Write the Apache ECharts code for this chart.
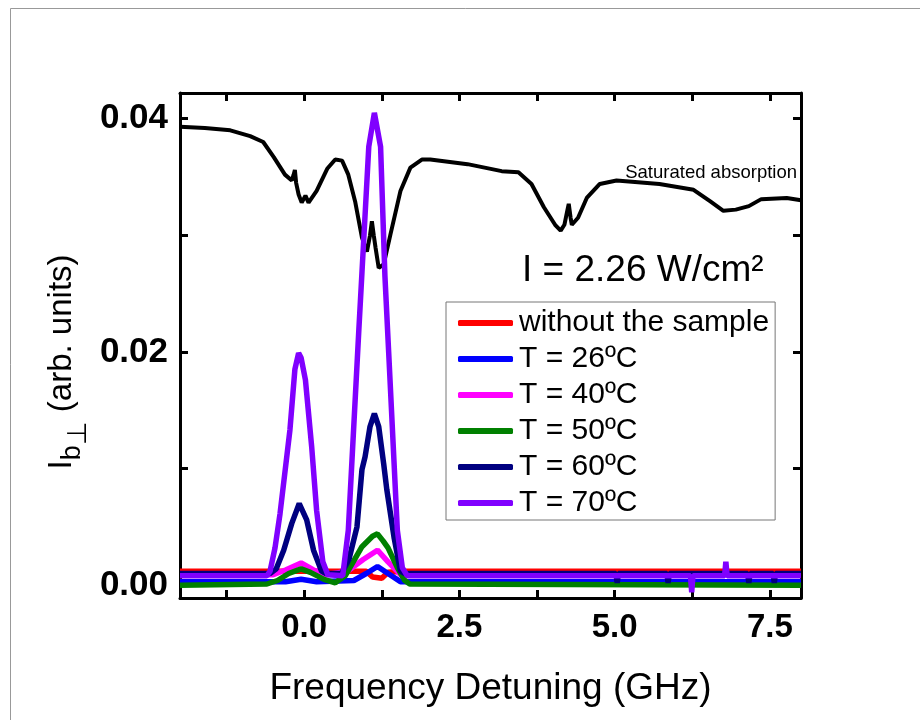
<!DOCTYPE html>
<html><head><meta charset="utf-8">
<script src="https://cdn.jsdelivr.net/npm/echarts@6/dist/echarts.min.js"></script>
<style>html,body{margin:0;padding:0;background:#fff}#c{width:920px;height:720px}</style>
</head><body><div id="c"></div><script>
// ---- data ----
const xTickValues = [-1.25, 0, 1.25, 2.5, 3.75, 5, 6.25, 7.5];
const xLabelValues = [0, 2.5, 5, 7.5];
const yTickValues = [0, 0.01, 0.02, 0.03, 0.04];
const yLabelValues = [0, 0.02, 0.04];
const seriesNames = ['without the sample','T = 26ºC','T = 40ºC','T = 50ºC','T = 60ºC','T = 70ºC'];
const seriesColors = ['#ff0000','#0000ff','#ff00ff','#008000','#000080','#8000ff'];

const satAbs = [[-2.0,0.0393],[-1.6,0.0392],[-1.19,0.0390],[-0.87,0.0385],[-0.66,0.0380],[-0.49,0.0367],[-0.31,0.0352],[-0.2,0.0347],[-0.17,0.0352],[-0.15,0.0356],[-0.13,0.0345],[-0.09,0.0335],[-0.04,0.0328],[0.02,0.0334],[0.07,0.0328],[0.2,0.0338],[0.37,0.0357],[0.5,0.0365],[0.61,0.0364],[0.71,0.0352],[0.82,0.0329],[0.93,0.0298],[1.01,0.0286],[1.06,0.0300],[1.09,0.0312],[1.12,0.0300],[1.15,0.0289],[1.2,0.0272],[1.28,0.0275],[1.39,0.0301],[1.55,0.0338],[1.71,0.0358],[1.9,0.0365],[2.03,0.0365],[2.63,0.0361],[3.18,0.0355],[3.45,0.0354],[3.66,0.0344],[3.86,0.0324],[4.04,0.0309],[4.13,0.0304],[4.19,0.0309],[4.24,0.0322],[4.26,0.0327],[4.29,0.0315],[4.31,0.0309],[4.41,0.0315],[4.55,0.0332],[4.76,0.0344],[5.03,0.0347],[5.72,0.0344],[6.27,0.0339],[6.54,0.0329],[6.75,0.0321],[6.95,0.0322],[7.16,0.0325],[7.36,0.0331],[7.77,0.0332],[8.0,0.0330]];

const noSample = [[-2,0.0012],[0.2,0.0012],[1.0,0.0012],[1.1,0.0007],[1.25,0.0006],[1.35,0.0011],[1.6,0.0012],[3.0,0.0012],[5.0,0.0012],[8,0.0012]];
const t26 = [[-2,0.0003],[-0.3,0.0003],[-0.05,0.0005],[0.2,0.0003],[0.8,0.0004],[1.0,0.0010],[1.18,0.0016],[1.35,0.0010],[1.55,0.0003],[8,0.0003]];
const t40 = [[-2,0.0009],[-0.5,0.0009],[-0.3,0.0013],[-0.05,0.0019],[0.15,0.0013],[0.35,0.0009],[0.7,0.0012],[0.95,0.0022],[1.18,0.0030],[1.35,0.0020],[1.55,0.0009],[8,0.0009]];
const t50 = [[-2,0.0000],[-0.6,0.0001],[-0.43,0.0004],[-0.25,0.0010],[-0.05,0.0014],[0.1,0.0011],[0.32,0.0005],[0.5,0.0002],[0.66,0.0008],[0.93,0.0033],[1.1,0.0042],[1.18,0.0044],[1.27,0.0038],[1.35,0.0032],[1.5,0.0015],[1.62,0.0004],[1.7,0.0001],[8,0.0000]];
const t60 = [[-2,0.0010],[-0.55,0.0010],[-0.45,0.0014],[-0.33,0.0030],[-0.2,0.0053],[-0.08,0.0070],[0.04,0.0056],[0.15,0.0030],[0.28,0.0012],[0.35,0.0010],[0.6,0.0010],[0.72,0.0022],[0.85,0.0050],[0.93,0.0099],[0.98,0.0110],[1.06,0.0136],[1.13,0.0147],[1.2,0.0136],[1.28,0.0104],[1.33,0.0082],[1.45,0.0040],[1.55,0.0012],[1.62,0.0010],[5.02,0.0010],[5.04,0.0002],[5.06,0.0010],[5.84,0.0010],[5.86,0.0002],[5.88,0.0010],[7.14,0.0010],[7.16,0.0002],[7.18,0.0010],[7.55,0.0010],[7.57,0.0002],[7.59,0.0010],[8,0.0010]];
const t70 = [[-2,0.0008],[-0.6,0.0008],[-0.55,0.0012],[-0.47,0.0032],[-0.39,0.0061],[-0.23,0.0133],[-0.15,0.0185],[-0.09,0.0199],[-0.05,0.0195],[0.02,0.0176],[0.12,0.0119],[0.2,0.0064],[0.3,0.0020],[0.38,0.0009],[0.62,0.0008],[0.71,0.0047],[0.88,0.0219],[0.93,0.0268],[1.04,0.0376],[1.13,0.0405],[1.23,0.0376],[1.30,0.0265],[1.36,0.0200],[1.5,0.0047],[1.58,0.0015],[1.66,0.0008],[6.22,0.0008],[6.24,-0.0006],[6.26,0.0008],[6.77,0.0008],[6.79,0.0020],[6.81,0.0008],[8,0.0008]];
const tempSeries = [noSample, t26, t40, t50, t60, t70];

// ---- chart ----
const FF = '"Liberation Sans", Arial, sans-serif';
const chart = echarts.init(document.getElementById('c'), null, {renderer:'canvas'});
const axisCommon = {
  type:'value', splitLine:{show:false},
  axisLine:{show:true, onZero:false, lineStyle:{color:'#000', width:3}},
};
const series = [{
  type:'line', name:'Saturated absorption', data:satAbs, showSymbol:false,
  lineStyle:{color:'#000', width:4}, itemStyle:{color:'#000'}, z:2
}];
tempSeries.forEach((d,i)=>{
  series.push({type:'line', name:seriesNames[i], data:d, showSymbol:false,
    lineStyle:{color:seriesColors[i], width:5.5}, itemStyle:{color:seriesColors[i]}, z:3});
});
chart.setOption({
  animation:false,
  backgroundColor:'#fff',
  grid:{left:180, right:119, top:93, bottom:122, containLabel:false},
  xAxis:[
    Object.assign({}, axisCommon, {position:'bottom', min:-2, max:8,
      axisTick:{inside:true, length:8, customValues:xTickValues, lineStyle:{color:'#000', width:3}},
      axisLabel:{customValues:xLabelValues, formatter:v=>v.toFixed(1), color:'#000', fontSize:33, fontWeight:'bold', fontFamily:FF, margin:13},
      name:'Frequency Detuning (GHz)', nameLocation:'middle', nameGap:72,
      nameTextStyle:{color:'#000', fontSize:37, fontFamily:FF}}),
    Object.assign({}, axisCommon, {position:'top', min:-2, max:8,
      axisTick:{inside:true, length:8, customValues:xTickValues, lineStyle:{color:'#000', width:3}},
      axisLabel:{show:false}})
  ],
  yAxis:[
    Object.assign({}, axisCommon, {position:'left', min:-0.0011, max:0.0422,
      axisTick:{inside:true, length:8, customValues:yTickValues, lineStyle:{color:'#000', width:3}},
      axisLabel:{customValues:yLabelValues, formatter:v=>v.toFixed(2), color:'#000', fontSize:35, fontWeight:'bold', fontFamily:FF, margin:12}}),
    Object.assign({}, axisCommon, {position:'right', min:-0.0011, max:0.0422,
      axisTick:{inside:true, length:8, customValues:yTickValues, lineStyle:{color:'#000', width:3}},
      axisLabel:{show:false}})
  ],
  legend:{
    data:seriesNames, orient:'vertical', left:446, top:302,
    icon:'roundRect', itemWidth:55, itemHeight:6, itemGap:6,
    padding:[6,6,2,12], borderColor:'#777', borderWidth:1, backgroundColor:'#fff',
    textStyle:{color:'#000', fontSize:30, fontFamily:FF, lineHeight:30, padding:[0,0,0,1]},
    selectedMode:false
  },
  graphic:[
    {type:'line', shape:{x1:10.5,y1:8.5,x2:920,y2:8.5}, style:{stroke:'#999', lineWidth:1}, silent:true},
    {type:'line', shape:{x1:10.5,y1:8.5,x2:10.5,y2:720}, style:{stroke:'#999', lineWidth:1}, silent:true},
    {type:'text', x:797, y:173, silent:true, style:{text:'Saturated absorption', fontSize:18.5, fontFamily:FF, fill:'#000', align:'right', verticalAlign:'middle'}},
    {type:'text', x:522, y:271, silent:true, style:{text:'I = 2.26 W/cm²', fontSize:37, fontFamily:FF, fill:'#000', align:'left', verticalAlign:'middle'}},
    {type:'text', x:62, y:362, rotation:Math.PI/2, silent:true, style:{
      text:'{a|I}{b|b}{c|⊥}{a| (arb. units)}', align:'center', verticalAlign:'middle',
      rich:{
        a:{fontSize:33, fontFamily:FF, fill:'#000', verticalAlign:'bottom'},
        b:{fontSize:27, fontFamily:FF, fill:'#000', verticalAlign:'bottom', padding:[0,0,-8,0]},
        c:{fontSize:27, fontFamily:FF, fill:'#000', verticalAlign:'bottom', padding:[0,0,-14,0]}
      }}}
  ],
  series:series
});
</script></body></html>
